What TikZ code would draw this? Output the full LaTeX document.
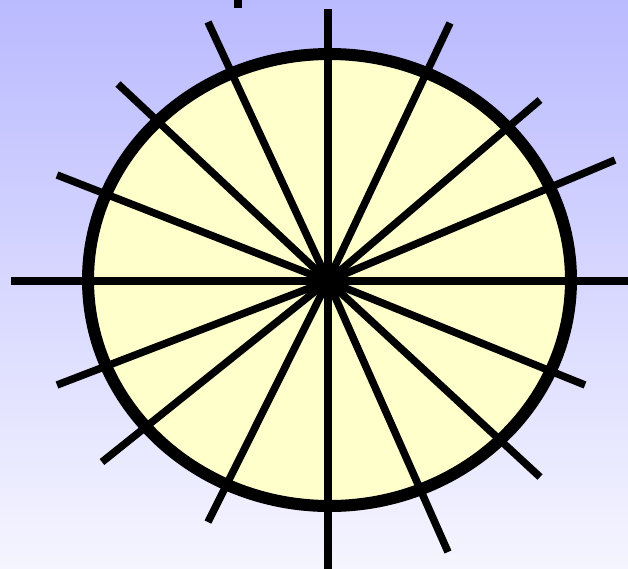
\documentclass[tikz,border=0pt]{standalone}
\usepackage{tikz}
\usetikzlibrary{calc}
\definecolor{skytop}{HTML}{BABAFF}
\definecolor{skybottom}{HTML}{F5F5FF}
\definecolor{wheelfill}{HTML}{FFFFCC}

\begin{document}
\begin{tikzpicture}[x=1pt,y=-1pt,
    spoke/.style={black,line width=7.5pt},
    rim/.style={black,line width=12pt}]
  % background
  \shade[top color=skytop,bottom color=skybottom] (0,0) rectangle (628,568);
  \useasboundingbox (0,0) rectangle (628,568);
  \fill[black] (234,0) rectangle (242,8);

  % wheel
  \coordinate (hub) at (328,281);
  \fill[wheelfill] (329.5,280) ellipse (241.5 and 226);
  \foreach \x/\y in {328/9, 328/575, 11/281, 635/281,
                     208/22, 450/23, 118/84, 540/100,
                     57/175, 615/160, 57/385, 585/385,
                     102/462, 540/477, 208/522, 448/552} {
    \draw[spoke] (hub) -- (\x,\y);
  }
  \draw[rim] (329.5,280) ellipse (241.5 and 226);
\end{tikzpicture}
\end{document}
